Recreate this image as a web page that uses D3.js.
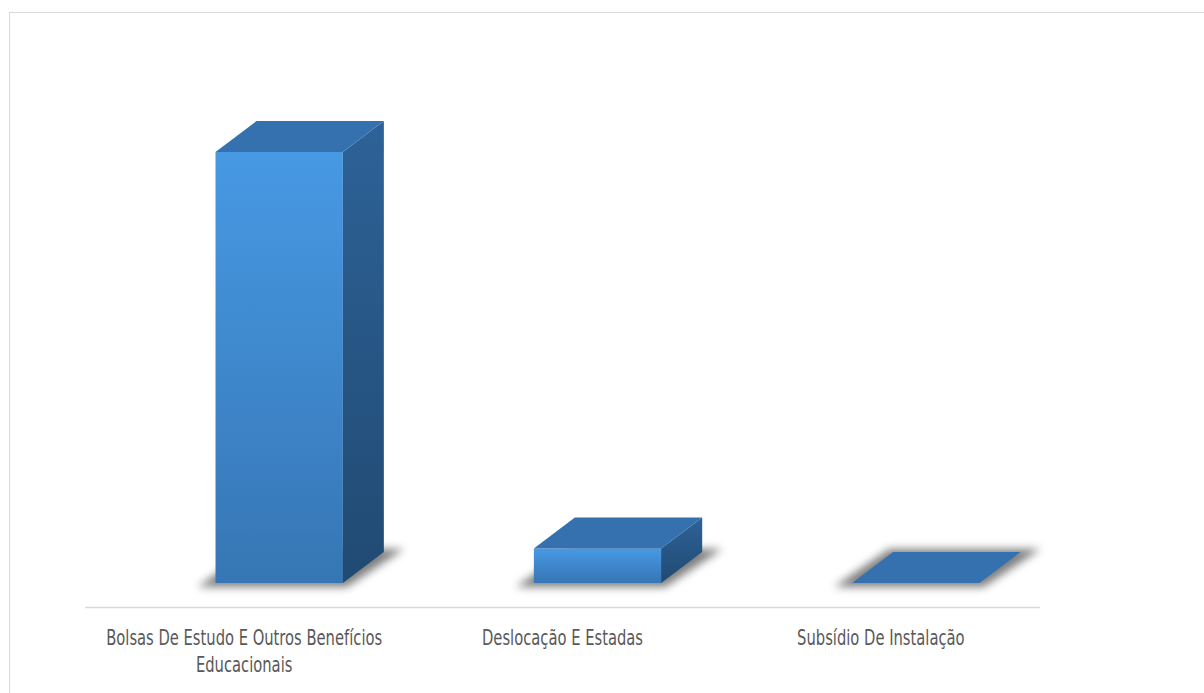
<!DOCTYPE html>
<html>
<head>
<meta charset="utf-8">
<script src="https://cdn.jsdelivr.net/npm/d3@7"></script>
<style>
  html, body { margin: 0; padding: 0; background: #fff; }
  svg { display: block; }
</style>
</head>
<body>
<svg id="chart" width="1204" height="693"></svg>
<script>
// ---- data ----
const categories = [
  ["Bolsas De Estudo E Outros Benefícios", "Educacionais"],
  ["Deslocação E Estadas"],
  ["Subsídio De Instalação"]
];
const categoryKeys = categories.map(c => c.join(" "));
const values = [100, 8, 0];

// ---- layout ----
const W = 1204, H = 693;
const svg = d3.select("#chart");
const depthX = 41, depthY = -31;

const x = d3.scaleBand().domain(categoryKeys).range([85, 1040]).paddingInner(0).paddingOuter(0);
const y = d3.scaleLinear().domain([0, 100]).range([583, 152]);

const defs = svg.append("defs");
const gFront = defs.append("linearGradient").attr("id", "gFront").attr("x1", 0).attr("y1", 0).attr("x2", 0).attr("y2", 1);
gFront.append("stop").attr("offset", "0%").attr("stop-color", "#4799e4");
gFront.append("stop").attr("offset", "100%").attr("stop-color", "#3676b4");
const gSide = defs.append("linearGradient").attr("id", "gSide").attr("x1", 0).attr("y1", 0).attr("x2", 0).attr("y2", 1);
gSide.append("stop").attr("offset", "0%").attr("stop-color", "#2e6298");
gSide.append("stop").attr("offset", "100%").attr("stop-color", "#204a72");
const blur = defs.append("filter").attr("id", "shadow").attr("x", "-30%").attr("y", "-100%").attr("width", "160%").attr("height", "300%");
blur.append("feGaussianBlur").attr("stdDeviation", 4.5);

// outer border
svg.append("rect").attr("x", 9.5).attr("y", 12.5).attr("width", W + 20).attr("height", H + 20)
  .attr("fill", "none").attr("stroke", "#d9d9d9").attr("stroke-width", 1);

// axis line
svg.append("line").attr("x1", x.range()[0]).attr("x2", x.range()[1])
  .attr("y1", 607.5).attr("y2", 607.5).attr("stroke", "#d9d9d9").attr("stroke-width", 1.5);

const bw = x.bandwidth();
const bars = svg.append("g").selectAll("g").data(values).join("g");

bars.each(function(v, i) {
  const g = d3.select(this);
  const x0 = x(categoryKeys[i]) + bw * 0.41;
  const x1 = x0 + bw * 0.4;
  const yb = y(0), yt = y(v);
  // shadow footprint
  const pts = [[x0 - 18, yb + 4], [x1 + 4, yb + 4], [x1 + depthX + 20, yb + depthY - 3], [x0 + depthX - 4, yb + depthY - 3]];
  g.append("polygon").attr("points", pts.map(p => p.join(",")).join(" "))
    .attr("fill", "#000").attr("opacity", 0.5).attr("filter", "url(#shadow)");
  if (v > 0) {
    // front
    g.append("rect").attr("x", x0).attr("y", yt).attr("width", x1 - x0).attr("height", yb - yt)
      .attr("fill", "url(#gFront)");
    // side
    g.append("polygon").attr("points", [[x1, yt], [x1 + depthX, yt + depthY], [x1 + depthX, yb + depthY], [x1, yb]].map(p => p.join(",")).join(" "))
      .attr("fill", "url(#gSide)");
  }
  // top
  g.append("polygon").attr("points", [[x0, yt], [x1, yt], [x1 + depthX, yt + depthY], [x0 + depthX, yt + depthY]].map(p => p.join(",")).join(" "))
    .attr("fill", "#3471ae");
});

// labels
const labels = svg.append("g").selectAll("text").data(categories).join("text")
  .attr("transform", (d, i) => `translate(${x(categoryKeys[i]) + bw / 2},645) scale(0.78,1)`)
  .attr("text-anchor", "middle")
  .attr("fill", "#595959")
  .style("font-family", "'DejaVu Sans Condensed', 'Liberation Sans Narrow', sans-serif")
  .style("font-size", "21px");
labels.selectAll("tspan").data(d => d).join("tspan")
  .attr("x", 0).attr("dy", (d, j) => j === 0 ? 0 : 27).text(d => d);
</script>
</body>
</html>
